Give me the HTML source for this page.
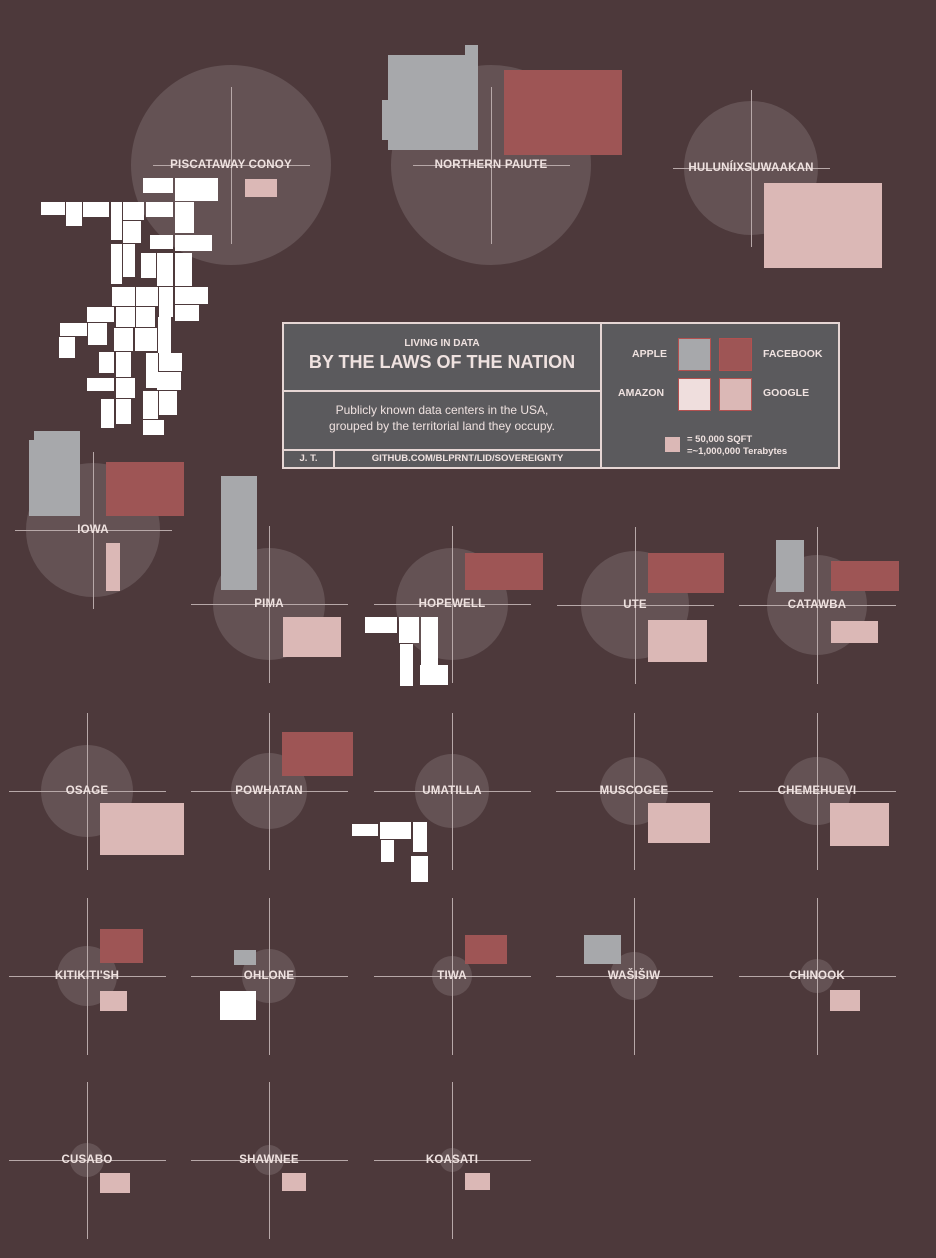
<!DOCTYPE html>
<html><head><meta charset="utf-8">
<style>
html,body{margin:0;padding:0;}
body{width:936px;height:1258px;background:#4d393b;position:relative;overflow:hidden;font-family:"Liberation Sans",sans-serif;}
.c{position:absolute;border-radius:50%;background:rgba(255,255,255,0.13);}
.l{position:absolute;background:#b7a8a8;}
.r{position:absolute;}
.t{position:absolute;color:#efe2e0;font-weight:bold;font-size:11.5px;white-space:nowrap;transform:translate(-50%,-50%);letter-spacing:0.2px;}
#legend{position:absolute;left:282px;top:322px;width:554px;height:143px;border:2px solid #e6d6d4;background:#5b5a5d;color:#efe2e0;}
#legend div{position:absolute;}
.sq{width:31px;height:31px;border:1px solid #b3504f;}
</style></head><body>
<div id="legend">
  <div style="left:316px;top:0;width:2px;height:143px;background:#e6d6d4"></div>
  <div style="left:0;top:66px;width:316px;height:2px;background:#e6d6d4"></div>
  <div style="left:0;top:125px;width:316px;height:2px;background:#e6d6d4"></div>
  <div style="left:49px;top:125px;width:2px;height:18px;background:#e6d6d4"></div>
  <div style="left:0;width:316px;top:14px;text-align:center;font-size:10px;font-weight:bold">LIVING IN DATA</div>
  <div style="left:0;width:316px;top:28px;text-align:center;font-size:18px;font-weight:bold">BY THE LAWS OF THE NATION</div>
  <div style="left:0;width:316px;top:78px;text-align:center;font-size:12px;line-height:16px">Publicly known data centers in the USA,<br>grouped by the territorial land they occupy.</div>
  <div style="left:0;width:49px;top:129px;text-align:center;font-size:9.5px;font-weight:bold">J. T.</div>
  <div style="left:51px;width:265px;top:129px;text-align:center;font-size:9.5px;font-weight:bold">GITHUB.COM/BLPRNT/LID/SOVEREIGNTY</div>
  <div style="left:348px;top:24px;font-size:10.5px;font-weight:bold">APPLE</div>
  <div class="sq" style="left:394px;top:14px;background:#a7a8ab"></div>
  <div class="sq" style="left:435px;top:14px;background:#9e5555"></div>
  <div style="left:479px;top:24px;font-size:10.5px;font-weight:bold">FACEBOOK</div>
  <div style="left:334px;top:63px;font-size:10.5px;font-weight:bold">AMAZON</div>
  <div class="sq" style="left:394px;top:54px;background:#efdedd"></div>
  <div class="sq" style="left:435px;top:54px;background:#dbb8b6"></div>
  <div style="left:479px;top:63px;font-size:10.5px;font-weight:bold">GOOGLE</div>
  <div style="left:381px;top:113px;width:15px;height:15px;background:#dbb8b6"></div>
  <div style="left:403px;top:110px;font-size:9.5px;font-weight:bold;line-height:12px">= 50,000 SQFT<br>=~1,000,000 Terabytes</div>
</div>
<script>
const colors={A:'#a7a8ab',F:'#9e5555',Z:'#ffffff',G:'#dbb8b6'};
const names=['PISCATAWAY CONOY','NORTHERN PAIUTE','HULUNÍIXSUWAAKAN','IOWA','PIMA','HOPEWELL','UTE','CATAWBA','OSAGE','POWHATAN','UMATILLA','MUSCOGEE','CHEMEHUEVI','KITIKITI\'SH','OHLONE','TIWA','WAŠIŠIW','CHINOOK','CUSABO','SHAWNEE','KOASATI'];
const centersX=[231,491,751,93,269,452,635,817,87,269,452,634,817,87,269,452,634,817,87,269,452];
const centersY=[165,165,168,530,604,604,605,605,791,791,791,791,791,976,976,976,976,976,1160,1160,1160];
const radii=[100,100,67,67,56,56,54,50,46,38,37,34,34,30,27,20,24,17,17,15,12];
// data centers: [group index, company, x1,y1,x2,y2]
const centers=[
[0,'G',245,179,277,197],
[0,'Z',143,178,173,193],[0,'Z',175,178,218,201],[0,'Z',41,202,65,215],[0,'Z',66,202,82,226],[0,'Z',83,202,109,217],[0,'Z',111,202,122,240],[0,'Z',123,202,144,220],[0,'Z',146,202,173,217],[0,'Z',175,202,194,233],[0,'Z',123,221,141,243],[0,'Z',150,235,173,249],[0,'Z',175,235,212,251],[0,'Z',111,244,122,284],[0,'Z',123,244,135,277],[0,'Z',141,253,156,278],[0,'Z',157,253,173,286],[0,'Z',175,253,192,286],[0,'Z',112,287,135,306],[0,'Z',136,287,158,306],[0,'Z',159,287,173,317],[0,'Z',175,287,208,304],[0,'Z',175,305,199,321],[0,'Z',87,307,114,322],[0,'Z',116,307,135,327],[0,'Z',136,307,155,327],[0,'Z',60,323,87,336],[0,'Z',88,323,107,345],[0,'Z',114,328,133,351],[0,'Z',135,328,157,351],[0,'Z',158,317,171,353],[0,'Z',59,337,75,358],[0,'Z',99,352,114,373],[0,'Z',116,352,131,377],[0,'Z',146,353,158,388],[0,'Z',159,353,182,371],[0,'Z',87,378,114,391],[0,'Z',116,378,135,398],[0,'Z',157,372,181,390],[0,'Z',143,391,158,419],[0,'Z',159,391,177,415],[0,'Z',101,399,114,428],[0,'Z',116,399,131,424],[0,'Z',143,420,164,435],
[1,'A',388,55,478,150],[1,'A',465,45,478,56],[1,'A',382,100,390,140],[1,'F',504,70,622,155],
[2,'G',764,183,882,268],
[3,'A',34,431,80,516],[3,'A',29,440,36,516],[3,'F',106,462,184,516],[3,'G',106,543,120,591],
[4,'A',221,476,257,590],[4,'G',283,617,341,657],
[5,'F',465,553,543,590],[5,'Z',365,617,397,633],[5,'Z',399,617,419,643],[5,'Z',421,617,438,665],[5,'Z',400,644,413,686],[5,'Z',420,665,448,685],
[6,'F',648,553,724,593],[6,'G',648,620,707,662],
[7,'A',776,540,804,592],[7,'F',831,561,899,591],[7,'G',831,621,878,643],
[8,'G',100,803,184,855],
[9,'F',282,732,353,776],
[10,'Z',352,824,378,836],[10,'Z',380,822,411,839],[10,'Z',413,822,427,852],[10,'Z',381,840,394,862],[10,'Z',411,856,428,882],
[11,'G',648,803,710,843],
[12,'G',830,803,889,846],
[13,'F',100,929,143,963],[13,'G',100,991,127,1011],
[14,'A',234,950,256,965],[14,'Z',220,991,256,1020],
[15,'F',465,935,507,964],
[16,'A',584,935,621,964],
[17,'G',830,990,860,1011],
[18,'G',100,1173,130,1193],
[19,'G',282,1173,306,1191],
[20,'G',465,1173,490,1190]
];
const cnames={A:'apple',F:'facebook',Z:'amazon',G:'google'};
const body=document.body, legend=document.getElementById('legend');
function add(cls,st){const d=document.createElement('div');d.className=cls;Object.assign(d.style,st);body.insertBefore(d,legend);return d;}
names.forEach((n,i)=>{
  const cx=centersX[i],cy=centersY[i],r=radii[i];
  const slug=n.toLowerCase().replace(/[^a-z]+/g,'-');
  let c=add('c',{left:(cx-r)+'px',top:(cy-r)+'px',width:2*r+'px',height:2*r+'px'});
  
  
  let h=add('l',{left:(cx-78)+'px',top:cy+'px',width:'157px',height:'1px'});
  
  
  let v=add('l',{left:cx+'px',top:(cy-78)+'px',width:'1px',height:'157px'});
  
  
});
centers.forEach(d=>{
  const [g,co,x1,y1,x2,y2]=d;
  let e=add('r',{left:x1+'px',top:y1+'px',width:(x2-x1)+'px',height:(y2-y1)+'px',background:colors[co]});
  
  
});
names.forEach((n,i)=>{
  let t=add('t',{left:centersX[i]+'px',top:centersY[i]+'px'});
  t.textContent=n;
  
  
});
</script>
</body></html>
